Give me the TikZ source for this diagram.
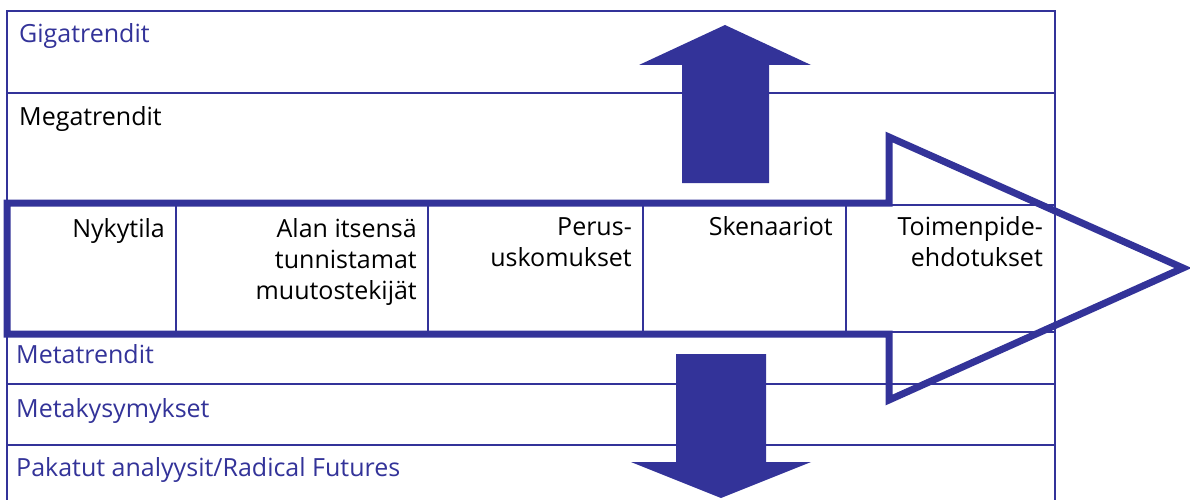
\documentclass[tikz,border=0pt]{standalone}
\usepackage{fontspec}
\setmainfont{Open Sans}
\definecolor{trendblue}{RGB}{51,51,153}

\begin{document}
\begin{tikzpicture}[x=1pt,y=-1pt,
    grid/.style={draw=trendblue, line width=2.5pt},
    band/.style={draw=trendblue, line width=7pt, line join=miter},
    bigarrow/.style={fill=trendblue, draw=none},
    lbl/.style={inner sep=0pt, font=\fontsize{25}{31}\selectfont},
    toplbl/.style={lbl, anchor=base west, text=trendblue},
    cell/.style={lbl, anchor=base east, align=right, text=black}]
    \useasboundingbox[fill=white] (0,0) rectangle (1190,500);
    % frame and rows
    \draw[grid] (7,502) -- (7,11) -- (1055,11) -- (1055,502);
    \draw[grid] (7,93) -- (1055,93);
    \draw[grid] (7,205) rectangle (1055,332);
    \foreach \x in {176,428,643,846}
        \draw[grid] (\x,205) -- (\x,332);
    \draw[grid] (7,384) -- (1055,384);
    \draw[grid] (7,445) -- (1055,445);
    % up and down arrows
    \fill[bigarrow] (682,183) -- (682,65) -- (639,65) -- (725,25) -- (811,65)
        -- (769,65) -- (769,183) -- cycle;
    \fill[bigarrow] (676,354) -- (676,462) -- (631,462) -- (721,498) -- (811,462)
        -- (766,462) -- (766,354) -- cycle;
    % process arrow
    \draw[band] (7,203) -- (889,203) -- (889,137) -- (1183,268) -- (889,400)
        -- (889,334) -- (7,334) -- cycle;
    % texts (multi-line cells sit on their last baseline)
    \node[toplbl] (giga) at (19,43) {Gigatrendit};
    \node[toplbl, text=black] (mega) at (19,125) {Megatrendit};
    \node[cell] (nyky) at (165,237) {Nykytila};
    \node[cell] (alan) at (417,299) {Alan itsensä\\tunnistamat\\muutostekijät};
    \node[cell] (perus) at (632,266) {Perus-\\uskomukset};
    \node[cell] (skenaariot) at (833,235) {Skenaariot};
    \node[cell] (toimenpide) at (1043,266) {Toimenpide-\\ehdotukset};
    \node[toplbl] (meta) at (16,363) {Metatrendit};
    \node[toplbl] (metakys) at (16,417) {Metakysymykset};
    \node[toplbl] (pakatut) at (16,476) {Pakatut analyysit/Radical Futures};
\end{tikzpicture}
\end{document}
